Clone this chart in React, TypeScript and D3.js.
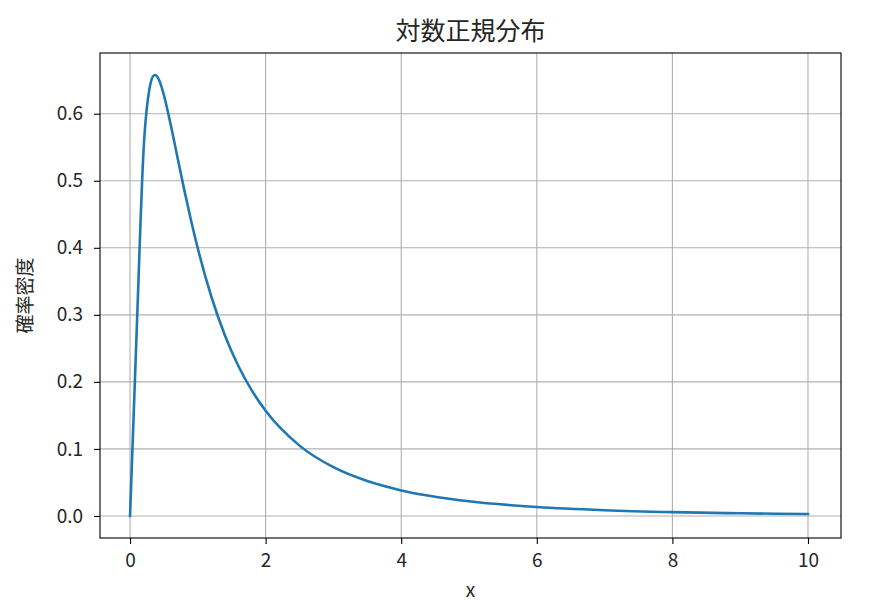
import React, { useEffect, useRef } from 'react';
import * as d3 from 'd3';

// values
const xValues = [0, 0.1, 0.2, 0.3, 0.35, 0.37, 0.4, 0.45, 0.5, 0.6, 0.7, 0.8, 0.9, 1.0, 1.2, 1.4, 1.6, 1.8, 2.0, 2.5, 3.0, 3.5, 4.0, 5.0, 6.0, 7.0, 8.0, 9.0, 10.0];
const densityValues = [0, 0.2816, 0.5463, 0.6442, 0.657, 0.6577, 0.6555, 0.6445, 0.6276, 0.5836, 0.5348, 0.4864, 0.4408, 0.3989, 0.327, 0.2693, 0.2233, 0.1865, 0.1569, 0.1049, 0.0727, 0.052, 0.0381, 0.0219, 0.01335, 0.00858, 0.00574, 0.00396, 0.00282];
const xTicks = [0, 2, 4, 6, 8, 10];
const yTicks = [0.0, 0.1, 0.2, 0.3, 0.4, 0.5, 0.6];

const title = '対数正規分布';
const xLabel = 'x';
const yLabel = '確率密度';

const width = 892;
const height = 614;
const margin = { top: 53, right: 51, bottom: 76, left: 100 };
const font = '"Noto Sans CJK JP", "Noto Sans", sans-serif';

const LognormalChart: React.FC = () => {
    const ref = useRef<SVGSVGElement>(null);

    useEffect(() => {
        const svg = d3.select(ref.current);
        svg.selectAll('*').remove();
        svg.attr('width', width).attr('height', height);

        const x = d3.scaleLinear().domain([-0.443, 10.487]).range([margin.left, width - margin.right]);
        const y = d3.scaleLinear().domain([-0.0329, 0.6906]).range([height - margin.bottom, margin.top]);

        svg.append('rect').attr('width', width).attr('height', height).attr('fill', '#ffffff');

        // grid
        const grid = svg.append('g').attr('stroke', '#b0b0b0').attr('stroke-width', 1.1);
        xTicks.forEach((t) => {
            grid.append('line')
                .attr('x1', x(t)).attr('x2', x(t))
                .attr('y1', margin.top).attr('y2', height - margin.bottom);
        });
        yTicks.forEach((t) => {
            grid.append('line')
                .attr('x1', margin.left).attr('x2', width - margin.right)
                .attr('y1', y(t)).attr('y2', y(t));
        });

        // curve
        const points = xValues.map((v, i) => [v, densityValues[i]] as [number, number]);
        const line = d3.line<[number, number]>()
            .x((d) => x(d[0]))
            .y((d) => y(d[1]))
            .curve(d3.curveMonotoneX);
        svg.append('path')
            .datum(points)
            .attr('d', line)
            .attr('fill', 'none')
            .attr('stroke', '#1f77b4')
            .attr('stroke-width', 2.6)
            .attr('stroke-linejoin', 'round')
            .attr('stroke-linecap', 'square');

        // axes
        const xAxis = svg.append('g')
            .attr('transform', `translate(0,${height - margin.bottom})`)
            .call(d3.axisBottom(x).tickValues(xTicks).tickFormat(d3.format('d')).tickSize(6).tickPadding(10));
        const yAxis = svg.append('g')
            .attr('transform', `translate(${margin.left},0)`)
            .call(d3.axisLeft(y).tickValues(yTicks).tickFormat(d3.format('.1f')).tickSize(6).tickPadding(11));
        [xAxis, yAxis].forEach((g) => {
            g.select('.domain').remove();
            g.selectAll('line').attr('stroke', '#000').attr('stroke-width', 1.1);
            g.selectAll('text')
                .attr('fill', '#262626')
                .style('font-family', font)
                .style('font-size', '19px');
        });

        // frame
        svg.append('rect')
            .attr('x', margin.left).attr('y', margin.top)
            .attr('width', width - margin.left - margin.right)
            .attr('height', height - margin.top - margin.bottom)
            .attr('fill', 'none')
            .attr('stroke', '#000')
            .attr('stroke-width', 1.1);

        svg.append('text')
            .attr('x', (margin.left + width - margin.right) / 2)
            .attr('y', 40)
            .attr('text-anchor', 'middle')
            .style('font-family', font)
            .style('font-size', '25px')
            .attr('fill', '#262626')
            .text(title);

        svg.append('text')
            .attr('x', (margin.left + width - margin.right) / 2)
            .attr('y', 597)
            .attr('text-anchor', 'middle')
            .style('font-family', font)
            .style('font-size', '19px')
            .attr('fill', '#262626')
            .text(xLabel);

        svg.append('text')
            .attr('transform', `translate(32,${(margin.top + height - margin.bottom) / 2}) rotate(-90)`)
            .attr('text-anchor', 'middle')
            .style('font-family', font)
            .style('font-size', '19px')
            .attr('fill', '#262626')
            .text(yLabel);
    }, []);

    return <svg ref={ref} style={{ position: 'absolute', left: 0, top: 0 }}></svg>;
};

export default function App() {
    return <LognormalChart />;
}
